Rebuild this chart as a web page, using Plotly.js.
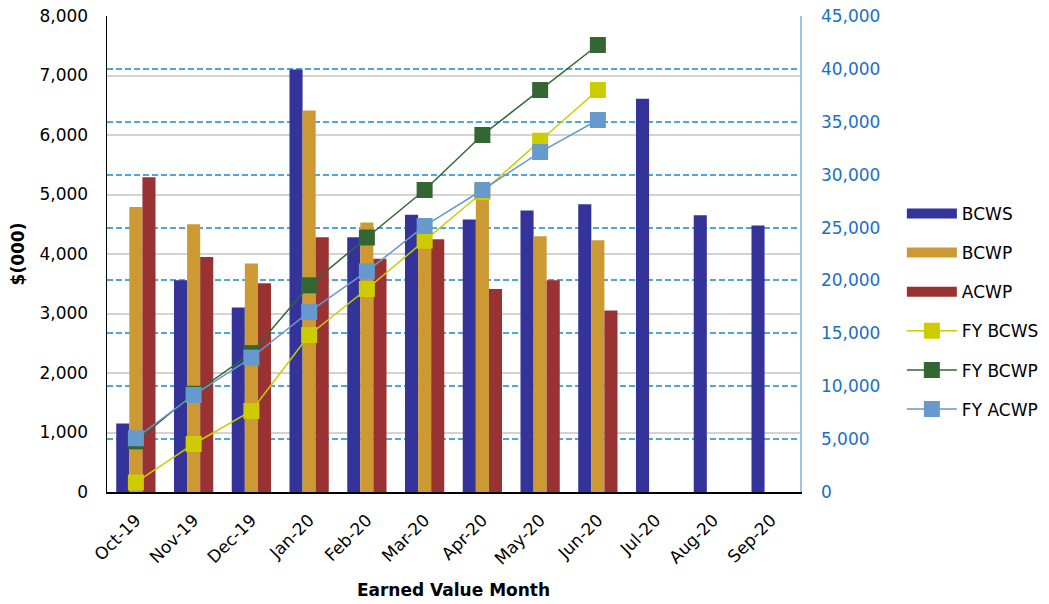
<!DOCTYPE html>
<html>
<head>
<meta charset="utf-8">
<script src="https://cdn.plot.ly/plotly-3.0.1.min.js"></script>
<style>html,body{margin:0;padding:0;background:#fff;}#chart{width:1049px;height:604px;}</style>
</head>
<body>
<div id="chart"></div>
<script>
const months = ["Oct-19","Nov-19","Dec-19","Jan-20","Feb-20","Mar-20","Apr-20","May-20","Jun-20","Jul-20","Aug-20","Sep-20"];
const bcws = [1150, 3560, 3100, 7100, 4280, 4660, 4580, 4730, 4835, 6610, 4650, 4480];
const bcwp = [4790, 4500, 3840, 6410, 4530, 4480, 4940, 4300, 4230, null, null, null];
const acwp = [5290, 3950, 3510, 4280, 3920, 4250, 3410, 3560, 3050, null, null, null];
const fyBcws = [900, 4540, 7660, 14840, 19190, 23760, 28340, 33210, 38000, null, null, null];
const fyBcwp = [4790, 9290, 13130, 19540, 24060, 28550, 33750, 38000, 42260, null, null, null];
const fyAcwp = [5080, 9170, 12700, 17020, 20860, 25150, 28550, 32140, 35170, null, null, null];

const FONT = "DejaVu Sans, Verdana, sans-serif";
const C_BCWS = "#333399", C_BCWP = "#CC9933", C_ACWP = "#993333";

function barTrace(name, y, color, g) {
  return {type: "bar", name: name, x: months, y: y, yaxis: "y",
    marker: {color: color, line: {width: 0}}, legendgroup: g, showlegend: false, hoverinfo: "skip"};
}
// legend-only entries so bar swatches show as wide rectangles like the reference
function barKey(name, color, g) {
  return {type: "scatter", mode: "lines", name: name, x: [months[0]], y: [null], yaxis: "y",
    line: {color: color, width: 10}, legendgroup: g, hoverinfo: "skip"};
}
function lineTrace(name, y, color, g) {
  return {type: "scatter", mode: "lines+markers", name: name, x: months, y: y, yaxis: "y2",
    line: {color: color, width: 1.5}, marker: {symbol: "square", size: 16, color: color, line: {width: 0}},
    legendgroup: g, hoverinfo: "skip"};
}

const data = [
  barTrace("BCWS", bcws, C_BCWS, "a"),
  barTrace("BCWP", bcwp, C_BCWP, "b"),
  barTrace("ACWP", acwp, C_ACWP, "c"),
  barKey("BCWS", C_BCWS, "a"),
  barKey("BCWP", C_BCWP, "b"),
  barKey("ACWP", C_ACWP, "c"),
  lineTrace("FY BCWS", fyBcws, "#CCCC00", "d"),
  lineTrace("FY BCWP", fyBcwp, "#336633", "e"),
  lineTrace("FY ACWP", fyAcwp, "#6699CC", "f")
];

const layout = {
  width: 1049, height: 604,
  margin: {l: 107, r: 249, t: 16, b: 112, autoexpand: false},
  paper_bgcolor: "#fff", plot_bgcolor: "#fff",
  font: {family: FONT, size: 17, color: "#000"},
  separators: ".,",
  barmode: "group", bargap: 0.32, bargroupgap: 0,
  showlegend: true,
  legend: {x: 1.147, xanchor: "left", y: 0.622, yanchor: "top",
    traceorder: "grouped", tracegroupgap: 14, itemwidth: 50,
    font: {family: FONT, size: 17, color: "#000"}, bgcolor: "rgba(0,0,0,0)"},
  xaxis: {
    type: "category", range: [-0.5, months.length - 0.5], tickangle: -45, showgrid: false,
    showline: true, linecolor: "#000", linewidth: 1.5, ticks: "",
    ticklabelstandoff: 10,
    tickfont: {family: FONT, size: 17, color: "#000"},
    title: {text: "<b>Earned Value Month</b>", font: {family: FONT, size: 17, color: "#000"}, standoff: 16},
    automargin: false
  },
  yaxis: {
    range: [0, 8000], dtick: 1000, tickformat: ",d",
    showline: true, linecolor: "#000", linewidth: 1.5, ticks: "",
    ticklabelstandoff: 14,
    showgrid: true, gridcolor: "#D3D3D3", gridwidth: 2,
    zeroline: false,
    tickfont: {family: FONT, size: 17, color: "#000"},
    title: {text: "<b>$(000)</b>", font: {family: FONT, size: 17, color: "#000"}, standoff: 10},
    automargin: false
  },
  yaxis2: {
    overlaying: "y", side: "right", range: [0, 45000], dtick: 5000, tickformat: ",d",
    showline: true, linecolor: "#9DC3E6", linewidth: 1.5, ticks: "",
    ticklabelstandoff: 16,
    showgrid: true, gridcolor: "#4FA6DA", gridwidth: 2, griddash: "6px,3px",
    zeroline: false,
    tickfont: {family: FONT, size: 17, color: "#1A6FC4"},
    automargin: false
  }
};

Plotly.newPlot("chart", data, layout, {staticPlot: true, displayModeBar: false});
</script>
</body>
</html>
